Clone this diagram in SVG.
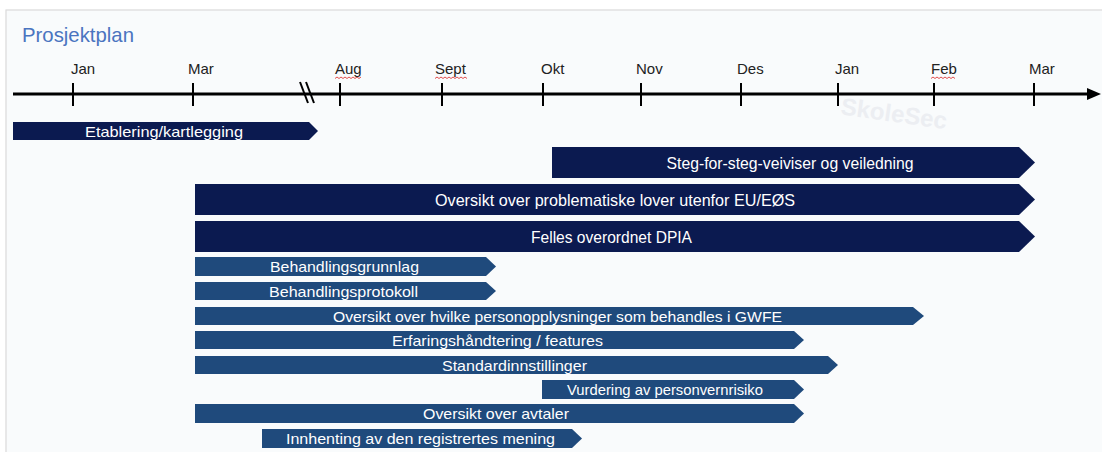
<svg xmlns="http://www.w3.org/2000/svg" width="1102" height="452" viewBox="0 0 1102 452">
  <style>
    .month { font-family: "Liberation Sans", Arial, sans-serif; font-size: 15px; fill: #222222; }
    .tick { stroke: #000000; stroke-width: 2; }
    .big { fill: #0b1a50; }
    .small { fill: #1f4a7c; }
    .lbl { font-family: "Liberation Sans", Arial, sans-serif; fill: #ffffff; text-anchor: middle; }
    .lb { font-size: 17px; }
    .ls { font-size: 15px; }
    .sq { fill: none; stroke: #e03a3a; stroke-width: 0.9; }
  </style>
  <rect x="0" y="0" width="1102" height="452" fill="#ffffff"/>
  <rect x="6" y="10" width="1100" height="450" fill="#f9fbfc" stroke="#dadada" stroke-width="1.2"/>
  <text x="840" y="122" transform="rotate(8 895 118)" font-family="Liberation Sans, Arial, sans-serif" font-size="24" font-weight="bold" fill="#eceef2">SkoleSec</text>

  <text x="22" y="42" font-family="Liberation Sans, Arial, sans-serif" font-size="21" fill="#4a74c0" textLength="112" lengthAdjust="spacingAndGlyphs">Prosjektplan</text>

  <g id="axis">
    <line x1="13" y1="94" x2="1090" y2="94" stroke="#000000" stroke-width="3"/>
    <polygon points="1087,88 1101,94 1087,100" fill="#000000"/>
    <line class="tick" x1="73" y1="83" x2="73" y2="106"/>
    <line class="tick" x1="193" y1="83" x2="193" y2="106"/>
    <line class="tick" x1="340" y1="83" x2="340" y2="106"/>
    <line class="tick" x1="442" y1="83" x2="442" y2="106"/>
    <line class="tick" x1="543" y1="83" x2="543" y2="106"/>
    <line class="tick" x1="641" y1="83" x2="641" y2="106"/>
    <line class="tick" x1="741" y1="83" x2="741" y2="106"/>
    <line class="tick" x1="838" y1="83" x2="838" y2="106"/>
    <line class="tick" x1="934" y1="83" x2="934" y2="106"/>
    <line class="tick" x1="1034" y1="83" x2="1034" y2="106"/>
    <line x1="300" y1="82" x2="308" y2="103" stroke="#000000" stroke-width="2"/>
    <line x1="306" y1="82" x2="314" y2="103" stroke="#000000" stroke-width="2"/>
    <text class="month" x="71" y="74">Jan</text>
    <text class="month" x="188" y="74">Mar</text>
    <text class="month" x="335" y="74">Aug</text>
    <text class="month" x="435" y="74">Sept</text>
    <text class="month" x="541" y="74">Okt</text>
    <text class="month" x="636" y="74">Nov</text>
    <text class="month" x="737" y="74">Des</text>
    <text class="month" x="835" y="74">Jan</text>
    <text class="month" x="931" y="74">Feb</text>
    <text class="month" x="1029" y="74">Mar</text>
    <path class="sq" d="M335,78.5 l2,-1.5 l2,1.5 l2,-1.5 l2,1.5 l2,-1.5 l2,1.5 l2,-1.5 l2,1.5 l2,-1.5 l2,1.5 l2,-1.5 l2,1.5 l2,-1.5"/>
    <path class="sq" d="M435,78.5 l2,-1.5 l2,1.5 l2,-1.5 l2,1.5 l2,-1.5 l2,1.5 l2,-1.5 l2,1.5 l2,-1.5 l2,1.5 l2,-1.5 l2,1.5 l2,-1.5 l2,1.5 l2,-1.5 l2,1.5"/>
    <path class="sq" d="M931,78.5 l2,-1.5 l2,1.5 l2,-1.5 l2,1.5 l2,-1.5 l2,1.5 l2,-1.5 l2,1.5 l2,-1.5 l2,1.5 l2,-1.5 l2,1.5"/>
  </g>

  <g id="etablering">
    <polygon class="big" points="13,122 309,122 318,131 309,140 13,140"/>
    <text class="lbl ls" x="164" y="136.5" textLength="158" lengthAdjust="spacingAndGlyphs">Etablering/kartlegging</text>
  </g>
  <g id="steg">
    <polygon class="big" points="552,147 1019,147 1035,162.5 1019,178 552,178"/>
    <text class="lbl lb" x="790" y="168.5" textLength="247" lengthAdjust="spacingAndGlyphs">Steg-for-steg-veiviser og veiledning</text>
  </g>
  <g id="lover">
    <polygon class="big" points="195,184 1019,184 1035,199.5 1019,215 195,215"/>
    <text class="lbl lb" x="615" y="206" textLength="360" lengthAdjust="spacingAndGlyphs">Oversikt over problematiske lover utenfor EU/EØS</text>
  </g>
  <g id="dpia">
    <polygon class="big" points="195,221 1019,221 1035,236.5 1019,252 195,252"/>
    <text class="lbl lb" x="611.5" y="243" textLength="161" lengthAdjust="spacingAndGlyphs">Felles overordnet DPIA</text>
  </g>
  <g id="grunnlag">
    <polygon class="small" points="195,257 486,257 496,266.5 486,276 195,276"/>
    <text class="lbl ls" x="344.5" y="272" textLength="149" lengthAdjust="spacingAndGlyphs">Behandlingsgrunnlag</text>
  </g>
  <g id="protokoll">
    <polygon class="small" points="195,282 486,282 496,291 486,300 195,300"/>
    <text class="lbl ls" x="343.5" y="296.5" textLength="149" lengthAdjust="spacingAndGlyphs">Behandlingsprotokoll</text>
  </g>
  <g id="personopplysninger">
    <polygon class="small" points="195,307 913,307 924,316 913,325 195,325"/>
    <text class="lbl ls" x="557.5" y="321.5" textLength="449" lengthAdjust="spacingAndGlyphs">Oversikt over hvilke personopplysninger som behandles i GWFE</text>
  </g>
  <g id="erfaring">
    <polygon class="small" points="195,331 794,331 804,340 794,349 195,349"/>
    <text class="lbl ls" x="497.5" y="345.5" textLength="211" lengthAdjust="spacingAndGlyphs">Erfaringshåndtering / features</text>
  </g>
  <g id="standard">
    <polygon class="small" points="195,356 828,356 838,365 828,374 195,374"/>
    <text class="lbl ls" x="514.5" y="370.5" textLength="145" lengthAdjust="spacingAndGlyphs">Standardinnstillinger</text>
  </g>
  <g id="vurdering">
    <polygon class="small" points="542,380 794,380 804,389.5 794,399 542,399"/>
    <text class="lbl ls" x="665" y="395" textLength="196" lengthAdjust="spacingAndGlyphs">Vurdering av personvernrisiko</text>
  </g>
  <g id="avtaler">
    <polygon class="small" points="195,404 794,404 804,413.5 794,423 195,423"/>
    <text class="lbl ls" x="496" y="419" textLength="146" lengthAdjust="spacingAndGlyphs">Oversikt over avtaler</text>
  </g>
  <g id="innhenting">
    <polygon class="small" points="262,429 572,429 582,438.5 572,448 262,448"/>
    <text class="lbl ls" x="420.5" y="444" textLength="269" lengthAdjust="spacingAndGlyphs">Innhenting av den registrertes mening</text>
  </g>
  <g id="connectors"></g>
</svg>
